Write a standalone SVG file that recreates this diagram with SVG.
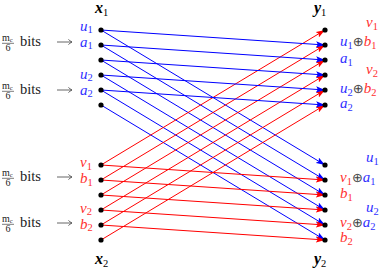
<svg xmlns="http://www.w3.org/2000/svg" width="382" height="270" viewBox="0 0 382 270">
<style>
.m{font-family:"Liberation Serif",serif;font-style:italic;font-size:15px}
.b{font-family:"Liberation Serif",serif;font-style:italic;font-weight:bold;font-size:16px;fill:#000}
.t{font-family:"Liberation Serif",serif;font-size:14.5px;fill:#222}
.f{font-family:"Liberation Serif",serif;font-size:10px;fill:#222}
.s{font-size:10.5px}
.bl{fill:#3030ff}
.rd{fill:#ff3030}
.op{font-family:"DejaVu Sans",sans-serif;font-style:normal;font-size:13px;fill:#444}
.lb{stroke:#0000ff;stroke-width:1;fill:none}
.lr{stroke:#ff0000;stroke-width:1;fill:none}
.dot{fill:#000}
.ga{stroke:#555;stroke-width:0.9;fill:none}
</style>
<defs>
<marker id="ab" viewBox="0 0 10 7" refX="10" refY="3.5" markerWidth="9" markerHeight="6.3" markerUnits="userSpaceOnUse" orient="auto"><path d="M0,0 L10,3.5 L0,7 L2,3.5 z" fill="#0000ff"/></marker>
<marker id="ar" viewBox="0 0 10 7" refX="10" refY="3.5" markerWidth="9" markerHeight="6.3" markerUnits="userSpaceOnUse" orient="auto"><path d="M0,0 L10,3.5 L0,7 L2,3.5 z" fill="#ff0000"/></marker>
</defs>

<g id="connectors">
<g id="steep-blue" marker-end="url(#ab)" class="lb">
<line x1="101" y1="30" x2="325" y2="165"/>
<line x1="101" y1="45" x2="325" y2="180"/>
<line x1="101" y1="60" x2="325" y2="195"/>
<line x1="101" y1="75" x2="325" y2="210"/>
<line x1="101" y1="90" x2="325" y2="225"/>
<line x1="101" y1="105" x2="325" y2="240"/>
</g>
<g id="steep-red" marker-end="url(#ar)" class="lr">
<line x1="101" y1="165" x2="325" y2="30"/>
<line x1="101" y1="180" x2="325" y2="45"/>
<line x1="101" y1="195" x2="325" y2="60"/>
<line x1="101" y1="210" x2="325" y2="75"/>
<line x1="101" y1="225" x2="325" y2="90"/>
<line x1="101" y1="240" x2="325" y2="105"/>
</g>
<g id="flat-blue" marker-end="url(#ab)" class="lb">
<line x1="101" y1="30" x2="325" y2="45"/>
<line x1="101" y1="45" x2="325" y2="60"/>
<line x1="101" y1="60" x2="325" y2="75"/>
<line x1="101" y1="75" x2="325" y2="90"/>
<line x1="101" y1="90" x2="325" y2="105"/>
</g>
<g id="flat-red" marker-end="url(#ar)" class="lr">
<line x1="101" y1="165" x2="325" y2="180"/>
<line x1="101" y1="180" x2="325" y2="195"/>
<line x1="101" y1="195" x2="325" y2="210"/>
<line x1="101" y1="210" x2="325" y2="225"/>
<line x1="101" y1="225" x2="325" y2="240"/>
</g>
</g>

<g id="x1-nodes">
<circle class="dot" cx="101" cy="30" r="2.6"/>
<circle class="dot" cx="101" cy="45" r="2.6"/>
<circle class="dot" cx="101" cy="60" r="2.6"/>
<circle class="dot" cx="101" cy="75" r="2.6"/>
<circle class="dot" cx="101" cy="90" r="2.6"/>
<circle class="dot" cx="101" cy="105" r="2.6"/>
</g>
<g id="x2-nodes">
<circle class="dot" cx="101" cy="165" r="2.6"/>
<circle class="dot" cx="101" cy="180" r="2.6"/>
<circle class="dot" cx="101" cy="195" r="2.6"/>
<circle class="dot" cx="101" cy="210" r="2.6"/>
<circle class="dot" cx="101" cy="225" r="2.6"/>
<circle class="dot" cx="101" cy="240" r="2.6"/>
</g>
<g id="y1-nodes">
<circle class="dot" cx="325" cy="30" r="2.6"/>
<circle class="dot" cx="325" cy="45" r="2.6"/>
<circle class="dot" cx="325" cy="60" r="2.6"/>
<circle class="dot" cx="325" cy="75" r="2.6"/>
<circle class="dot" cx="325" cy="90" r="2.6"/>
<circle class="dot" cx="325" cy="105" r="2.6"/>
</g>
<g id="y2-nodes">
<circle class="dot" cx="325" cy="165" r="2.6"/>
<circle class="dot" cx="325" cy="180" r="2.6"/>
<circle class="dot" cx="325" cy="195" r="2.6"/>
<circle class="dot" cx="325" cy="210" r="2.6"/>
<circle class="dot" cx="325" cy="225" r="2.6"/>
<circle class="dot" cx="325" cy="240" r="2.6"/>
</g>

<g id="titles">
<text class="b" x="95" y="13">x<tspan class="s" font-weight="normal" font-style="normal" dy="3">1</tspan></text>
<text class="b" x="95" y="264">x<tspan class="s" font-weight="normal" font-style="normal" dy="3">2</tspan></text>
<text class="b" x="314" y="13">y<tspan class="s" font-weight="normal" font-style="normal" dy="3">1</tspan></text>
<text class="b" x="314" y="264">y<tspan class="s" font-weight="normal" font-style="normal" dy="3">2</tspan></text>
</g>

<g id="rates">
<g id="rate1">
<text class="f" x="2" y="40.5">m<tspan font-size="6.5" dy="1.5">c</tspan></text>
<line x1="2" y1="43.3" x2="14" y2="43.3" stroke="#222" stroke-width="0.6"/>
<text class="f" x="5.5" y="50.5">6</text>
<text class="t" x="20" y="45.7">bits</text>
<path class="ga" d="M57,42 H72 M68.5,39.3 Q70,41.3 72,42 Q70,42.7 68.5,44.7"/>
</g>
<g id="rate2">
<text class="f" x="2" y="88.5">m<tspan font-size="6.5" dy="1.5">c</tspan></text>
<line x1="2" y1="91.3" x2="14" y2="91.3" stroke="#222" stroke-width="0.6"/>
<text class="f" x="5.5" y="98.5">6</text>
<text class="t" x="20" y="93.7">bits</text>
<path class="ga" d="M57,90 H72 M68.5,87.3 Q70,89.3 72,90 Q70,90.7 68.5,92.7"/>
</g>
<g id="rate3">
<text class="f" x="2" y="175.5">m<tspan font-size="6.5" dy="1.5">c</tspan></text>
<line x1="2" y1="178.3" x2="14" y2="178.3" stroke="#222" stroke-width="0.6"/>
<text class="f" x="5.5" y="185.5">6</text>
<text class="t" x="20" y="180.7">bits</text>
<path class="ga" d="M57,177 H72 M68.5,174.3 Q70,176.3 72,177 Q70,177.7 68.5,179.7"/>
</g>
<g id="rate4">
<text class="f" x="2" y="221.5">m<tspan font-size="6.5" dy="1.5">c</tspan></text>
<line x1="2" y1="224.3" x2="14" y2="224.3" stroke="#222" stroke-width="0.6"/>
<text class="f" x="5.5" y="231.5">6</text>
<text class="t" x="20" y="226.7">bits</text>
<path class="ga" d="M57,223 H72 M68.5,220.3 Q70,222.3 72,223 Q70,223.7 68.5,225.7"/>
</g>
</g>

<g id="input-labels">
<text class="m bl" x="80" y="30.5">u<tspan class="s" font-style="normal" dy="2.5">1</tspan></text>
<text class="m bl" x="80" y="46.5">a<tspan class="s" font-style="normal" dy="2.5">1</tspan></text>
<text class="m bl" x="80" y="78.5">u<tspan class="s" font-style="normal" dy="2.5">2</tspan></text>
<text class="m bl" x="80" y="94.5">a<tspan class="s" font-style="normal" dy="2.5">2</tspan></text>
<text class="m rd" x="80" y="167">v<tspan class="s" font-style="normal" dy="2.5">1</tspan></text>
<text class="m rd" x="80" y="183">b<tspan class="s" font-style="normal" dy="2.5">1</tspan></text>
<text class="m rd" x="80" y="212.5">v<tspan class="s" font-style="normal" dy="2.5">2</tspan></text>
<text class="m rd" x="80" y="228.5">b<tspan class="s" font-style="normal" dy="2.5">2</tspan></text>
</g>

<g id="output-labels">
<text class="m rd" x="366" y="27">v<tspan class="s" font-style="normal" dy="3">1</tspan></text>
<text class="m" x="340" y="46"><tspan class="bl">u</tspan><tspan class="s bl" font-style="normal" dy="3">1</tspan><tspan class="op" dy="-3">⊕</tspan><tspan class="rd">b</tspan><tspan class="s rd" font-style="normal" dy="3">1</tspan></text>
<text class="m bl" x="340" y="63">a<tspan class="s" font-style="normal" dy="3">1</tspan></text>
<text class="m rd" x="366" y="74">v<tspan class="s" font-style="normal" dy="3">2</tspan></text>
<text class="m" x="340" y="93"><tspan class="bl">u</tspan><tspan class="s bl" font-style="normal" dy="3">2</tspan><tspan class="op" dy="-3">⊕</tspan><tspan class="rd">b</tspan><tspan class="s rd" font-style="normal" dy="3">2</tspan></text>
<text class="m bl" x="340" y="108">a<tspan class="s" font-style="normal" dy="3">2</tspan></text>
<text class="m bl" x="366" y="162">u<tspan class="s" font-style="normal" dy="3">1</tspan></text>
<text class="m" x="340" y="182"><tspan class="rd">v</tspan><tspan class="s rd" font-style="normal" dy="3">1</tspan><tspan class="op" dy="-3">⊕</tspan><tspan class="bl">a</tspan><tspan class="s bl" font-style="normal" dy="3">1</tspan></text>
<text class="m rd" x="340" y="198">b<tspan class="s" font-style="normal" dy="3">1</tspan></text>
<text class="m bl" x="366" y="212">u<tspan class="s" font-style="normal" dy="3">2</tspan></text>
<text class="m" x="340" y="227"><tspan class="rd">v</tspan><tspan class="s rd" font-style="normal" dy="3">2</tspan><tspan class="op" dy="-3">⊕</tspan><tspan class="bl">a</tspan><tspan class="s bl" font-style="normal" dy="3">2</tspan></text>
<text class="m rd" x="340" y="242">b<tspan class="s" font-style="normal" dy="3">2</tspan></text>
</g>
</svg>
